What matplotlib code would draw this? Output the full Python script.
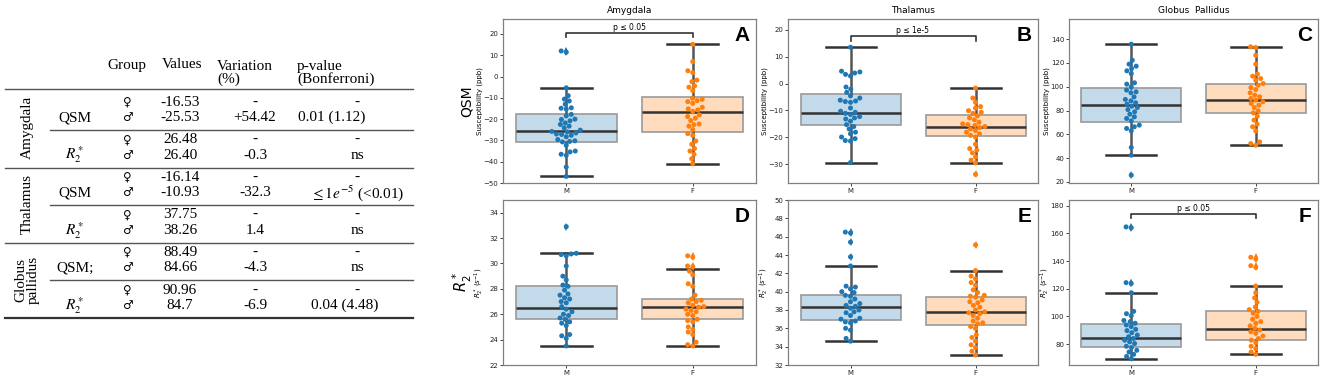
import matplotlib as mpl
import matplotlib.pyplot as plt
import numpy as np
import seaborn as sns

W, H = 1325, 379

# ---------------- table data ----------------
regions = ['Amygdala', 'Thalamus', 'Globus\npallidus']
measures = ['QSM', r'$R_2^*$', 'QSM', r'$R_2^*$', 'QSM;', r'$R_2^*$']
female_vals = ['-16.53', '26.48', '-16.14', '37.75', '88.49', '90.96']
male_vals = ['-25.53', '26.40', '-10.93', '38.26', '84.66', '84.7']
variation = ['+54.42', '-0.3', '-32.3', '1.4', '-4.3', '-6.9']
pvalues = ['0.01 (1.12)', 'ns', r'$\leq 1e^{-5}$ (<0.01)', 'ns', 'ns', '0.04 (4.48)']

# ---------------- chart data ----------------
titles = ['Amygdala', 'Thalamus', 'Globus  Pallidus']
letters = ['A', 'B', 'C', 'D', 'E', 'F']

amyg_qsm_m = [12.0, 11.4, -5.3, -9.0, -10.6, -11.5, -13.0, -14.7, -14.9, -15.3,
              -17.8, -18.5, -20.0, -20.2, -20.8, -21.8, -22.5, -23.3, -24.1, -25.2,
              -25.8, -26.0, -26.5, -27.0, -27.2, -27.6, -28.3, -29.6, -30.2, -30.5,
              -30.7, -32.3, -35.0, -35.4, -36.5, -37.0, -42.5, -46.9]
amyg_qsm_f = [15.1, 7.0, 2.7, 1.8, -1.7, -2.4, -4.4, -5.0, -6.6, -10.2, -10.7,
              -11.3, -11.8, -12.6, -14.5, -15.2, -15.7, -16.4, -18.0, -18.8, -19.6,
              -20.7, -22.3, -22.6, -23.3, -24.9, -26.8, -27.6, -30.3, -31.8, -33.8,
              -35.0, -36.5, -38.6, -40.9]
thal_qsm_m = [13.5, 4.6, 4.3, 3.9, 3.4, 2.8, -1.3, -2.1, -3.3, -4.6, -5.4, -6.2,
              -6.5, -6.7, -7.0, -9.1, -10.3, -10.7, -11.1, -11.5, -12.3, -12.8,
              -13.2, -14.0, -15.3, -16.0, -16.9, -18.1, -18.7, -19.9, -20.5, -21.2,
              -21.4, -29.4]
thal_qsm_f = [-1.7, -5.4, -7.0, -8.6, -9.1, -10.1, -10.7, -11.1, -12.0, -12.8,
              -13.5, -14.4, -15.0, -15.3, -15.6, -16.0, -16.4, -16.9, -17.5, -18.1,
              -18.7, -19.3, -19.9, -22.6, -24.2, -24.8, -25.8, -27.3, -28.5, -29.5,
              -33.8]
gp_qsm_m = [135.8, 122.3, 119.0, 117.3, 115.3, 113.4, 111.1, 103.3, 102.2, 100.0,
            97.2, 95.7, 94.9, 91.5, 89.3, 88.1, 86.5, 85.3, 83.6, 82.5, 80.8, 78.9,
            76.9, 74.7, 73.3, 71.3, 67.7, 66.3, 64.9, 62.9, 48.9, 42.4, 25.6]
gp_qsm_f = [133.6, 133.0, 126.5, 119.0, 110.6, 108.9, 106.9, 105.5, 102.7, 101.3,
            99.3, 97.6, 94.9, 92.9, 91.5, 90.1, 88.7, 87.3, 85.9, 84.5, 82.5, 79.7,
            78.0, 75.2, 71.9, 68.5, 66.3, 62.9, 53.6, 52.2, 50.8]
amyg_r2_m = [32.9, 30.8, 30.75, 30.7, 30.6, 29.8, 29.0, 28.7, 28.3, 28.2, 27.9,
             27.6, 27.5, 27.3, 27.2, 27.0, 26.9, 26.6, 26.4, 26.2, 26.0, 25.9, 25.7,
             25.6, 25.4, 25.3, 25.1, 24.4, 24.3, 24.1, 23.5]
amyg_r2_f = [30.6, 30.5, 29.8, 29.75, 29.4, 29.1, 28.4, 28.2, 27.5, 27.2, 27.1,
             27.0, 26.9, 26.7, 26.6, 26.55, 26.4, 26.3, 26.2, 26.0, 25.9, 25.6, 25.5,
             25.4, 25.0, 24.8, 24.6, 24.4, 23.8, 23.6, 23.5]
thal_r2_m = [46.5, 46.4, 45.4, 43.8, 42.8, 40.6, 40.5, 40.3, 40.0, 39.9, 39.6,
             39.5, 39.2, 38.9, 38.7, 38.5, 38.4, 38.2, 38.0, 37.8, 37.7, 37.4, 37.1,
             37.0, 36.8, 36.7, 36.6, 36.0, 35.8, 34.9, 34.6]
thal_r2_f = [45.1, 42.3, 41.7, 41.4, 41.0, 40.7, 40.2, 39.9, 39.6, 39.5, 39.4, 39.1,
             38.9, 38.8, 38.5, 38.3, 38.0, 37.8, 37.7, 37.6, 37.4, 37.1, 36.8, 36.6,
             36.5, 36.2, 36.0, 35.3, 35.0, 34.6, 34.2, 33.9, 33.5, 33.1]
gp_r2_m = [164.6, 164.0, 124.4, 123.8, 117.1, 103.7, 102.0, 100.5, 97.1, 96.3,
           95.1, 93.9, 92.7, 90.7, 89.8, 88.3, 86.6, 85.4, 84.1, 82.9, 81.7, 80.5,
           78.5, 77.6, 75.6, 74.4, 72.7, 71.2, 69.5]
gp_r2_f = [142.7, 141.5, 136.6, 135.4, 122.0, 117.1, 113.4, 110.2, 106.8, 104.9,
           103.7, 102.4, 100.0, 98.0, 96.3, 95.1, 93.2, 91.5, 90.2, 89.0, 87.8,
           85.9, 84.1, 82.9, 81.0, 78.5, 76.8, 74.4, 72.7]

# box stats: whislo, q1, median, q3, whishi
amyg_qsm_box_m = [-46.9, -30.7, -25.7, -17.6, -5.3]
amyg_qsm_box_f = [-40.9, -26.0, -16.6, -9.5, 15.1]
thal_qsm_box_m = [-29.4, -15.6, -11.0, -4.0, 13.5]
thal_qsm_box_f = [-29.6, -19.7, -16.2, -11.7, -1.7]
gp_qsm_box_m = [42.4, 70.5, 84.5, 99.3, 135.8]
gp_qsm_box_f = [50.8, 78.3, 88.7, 101.9, 133.6]
amyg_r2_box_m = [23.5, 25.6, 26.5, 28.2, 30.8]
amyg_r2_box_f = [23.5, 25.6, 26.6, 27.2, 29.6]
thal_r2_box_m = [34.6, 36.9, 38.3, 39.6, 42.8]
thal_r2_box_f = [33.1, 36.4, 37.8, 39.4, 42.3]
gp_r2_box_m = [69.5, 78.0, 84.6, 94.6, 117.1]
gp_r2_box_f = [72.7, 82.9, 91.0, 103.7, 122.0]

ylims = [(-50, 27), (-37, 24), (19, 157), (22, 35), (32, 50), (65, 184)]
yticks = [np.arange(-50, 21, 10), np.arange(-30, 21, 10), np.arange(20, 141, 20),
          np.arange(22, 35, 2), np.arange(32, 51, 2), np.arange(80, 181, 20)]
sig_text = ['p \u2264 0.05', 'p \u2264 1e-5', None, None, None, 'p \u2264 0.05']
sig_y = [20.3, 17.5, None, None, None, 173.7]
sig_drop = [1.8, 1.5, None, None, None, 3.0]

values_m = [amyg_qsm_m, thal_qsm_m, gp_qsm_m, amyg_r2_m, thal_r2_m, gp_r2_m]
values_f = [amyg_qsm_f, thal_qsm_f, gp_qsm_f, amyg_r2_f, thal_r2_f, gp_r2_f]
boxes_m = [amyg_qsm_box_m, thal_qsm_box_m, gp_qsm_box_m, amyg_r2_box_m, thal_r2_box_m, gp_r2_box_m]
boxes_f = [amyg_qsm_box_f, thal_qsm_box_f, gp_qsm_box_f, amyg_r2_box_f, thal_r2_box_f, gp_r2_box_f]

BLUE = '#1f77b4'
ORANGE = '#ff7f0e'

fig = plt.figure(figsize=(W / 100, H / 100), dpi=100)


def fx(x):
    return x / W


def fy(y):
    return 1 - y / H


# ---------------- table ----------------
serif = ['Liberation Serif', 'DejaVu Serif']
sym = ['DejaVu Sans']
tfs = 11
fig.text(fx(127), fy(65), 'Group', fontsize=tfs, family=serif, ha='center', va='center')
fig.text(fx(182), fy(65), 'Values', fontsize=tfs, family=serif, ha='center', va='center')
fig.text(fx(217), fy(73), 'Variation\n(%)', fontsize=tfs, family=serif, ha='left',
         va='center', linespacing=0.95)
fig.text(fx(297), fy(73), 'p-value\n(Bonferroni)', fontsize=tfs, family=serif, ha='left',
         va='center', linespacing=0.95)

pval_x = [332, 357, 357, 357, 357, 345]
rule_kw = dict(color='#555555', lw=1.0, transform=fig.transFigure)
fig.add_artist(plt.Line2D([fx(5), fx(413)], [fy(89), fy(89)], **rule_kw))
for i in range(6):
    y1 = 102 + i * 37.6
    y2 = y1 + 15.5
    fig.text(fx(75), fy(y2), measures[i], fontsize=tfs, family=serif, ha='center',
             va='center', math_fontfamily='stix')
    fig.text(fx(127), fy(y1), '\u2640', fontsize=8.5, family=sym, ha='center', va='center')
    fig.text(fx(127), fy(y2), '\u2642', fontsize=8.5, family=sym, ha='center', va='center')
    fig.text(fx(180), fy(y1), female_vals[i], fontsize=tfs, family=serif, ha='center', va='center')
    fig.text(fx(180), fy(y2), male_vals[i], fontsize=tfs, family=serif, ha='center', va='center')
    fig.text(fx(255), fy(y1), '-', fontsize=tfs, family=serif, ha='center', va='center')
    fig.text(fx(255), fy(y2), variation[i], fontsize=tfs, family=serif, ha='center', va='center')
    fig.text(fx(357), fy(y1), '-', fontsize=tfs, family=serif, ha='center', va='center')
    fig.text(fx(pval_x[i]), fy(y2), pvalues[i], fontsize=tfs, family=serif, ha='center',
             va='center', math_fontfamily='stix')
    yr = y2 + 12.5
    if i == 5:
        fig.add_artist(plt.Line2D([fx(5), fx(413)], [fy(yr), fy(yr)], color='#333333',
                                  lw=1.6, transform=fig.transFigure))
    elif i % 2 == 1:
        fig.add_artist(plt.Line2D([fx(5), fx(413)], [fy(yr), fy(yr)], **rule_kw))
    else:
        fig.add_artist(plt.Line2D([fx(50), fx(413)], [fy(yr), fy(yr)], **rule_kw))

for k, name in enumerate(regions):
    yc = 127 + k * 76.5
    fig.text(fx(27), fy(yc), name, fontsize=tfs, family=serif, ha='center', va='center',
             rotation=90, linespacing=0.9)

# ---------------- box + swarm panels ----------------
col_left = [503, 788, 1069]
col_w = [253, 250, 249]
row_top = [19, 200]
row_h = [164, 165]

for p in range(6):
    r, c = divmod(p, 3)
    ax = fig.add_axes([fx(col_left[c]), fy(row_top[r] + row_h[r]),
                       col_w[c] / W, row_h[r] / H])
    vm, vf = values_m[p], values_f[p]
    groups = ['M'] * len(vm) + ['F'] * len(vf)
    sns.swarmplot(x=groups, y=vm + vf, hue=groups, palette={'M': BLUE, 'F': ORANGE},
                  order=['M', 'F'], size=3.6, ax=ax, legend=False, zorder=3)

    stats = []
    for vals, b, lab in [(vm, boxes_m[p], 'M'), (vf, boxes_f[p], 'F')]:
        fl = [v for v in vals if v < b[0] or v > b[4]]
        stats.append(dict(whislo=b[0], q1=b[1], med=b[2], q3=b[3], whishi=b[4],
                          fliers=fl, label=lab))
    bp = ax.bxp(stats, positions=[0, 1], widths=0.8, patch_artist=True,
                manage_ticks=False, showfliers=True,
                boxprops=dict(edgecolor='#9a9a9a', linewidth=1.2),
                medianprops=dict(color='#333333', linewidth=1.8),
                whiskerprops=dict(color='#555555', linewidth=1.8),
                capprops=dict(color='#333333', linewidth=1.8), capwidths=0.4,
                flierprops=dict(marker='d', markersize=4, markeredgewidth=0))
    for patch, col in zip(bp['boxes'], [BLUE, ORANGE]):
        patch.set_facecolor(mpl.colors.to_rgba(col, 0.27))
        patch.set_zorder(1)
    for fl, col in zip(bp['fliers'], [BLUE, ORANGE]):
        fl.set_markerfacecolor(col)
        fl.set_zorder(4)
    for ln in bp['medians'] + bp['whiskers'] + bp['caps']:
        ln.set_zorder(2)

    if sig_text[p]:
        ys, d = sig_y[p], sig_drop[p]
        ax.plot([0, 0, 1, 1], [ys - d, ys, ys, ys - d], color='#333333', lw=1.2, zorder=5)
        ax.text(0.5, ys + d * 0.25, sig_text[p], ha='center', va='bottom', fontsize=5.5,
                family='DejaVu Sans')

    ax.set_xlim(-0.5, 1.5)
    ax.set_ylim(*ylims[p])
    ax.set_yticks(yticks[p])
    ax.set_xticks([0, 1])
    ax.set_xticklabels(['M', 'F'])
    ax.set_xlabel('')
    ax.tick_params(labelsize=5, length=2, width=0.6, pad=1.5, colors='#222222')
    for s in ax.spines.values():
        s.set_color('#808080')
        s.set_linewidth(0.9)
    if r == 0:
        ax.set_ylabel('Susceptibility (ppb)', fontsize=5)
        ax.set_title(titles[c], fontsize=6.5, pad=4)
        ax.yaxis.set_label_coords(-0.078, 0.5)
    else:
        ax.set_ylabel(r'$R_2^*\ (s^{-1})$', fontsize=5)
        ax.yaxis.set_label_coords(-0.068, 0.5)
    ax.text(0.975, 0.955, letters[p], transform=ax.transAxes, ha='right', va='top',
            fontsize=15, fontweight='bold', family='Liberation Sans')

fig.text(fx(467), fy(101), 'QSM', fontsize=10, rotation=90, ha='center', va='center')
fig.text(fx(462), fy(282), r'$R_2^*$', fontsize=10.5, rotation=90, ha='center', va='center')

fig.savefig('out.png', dpi=100)
